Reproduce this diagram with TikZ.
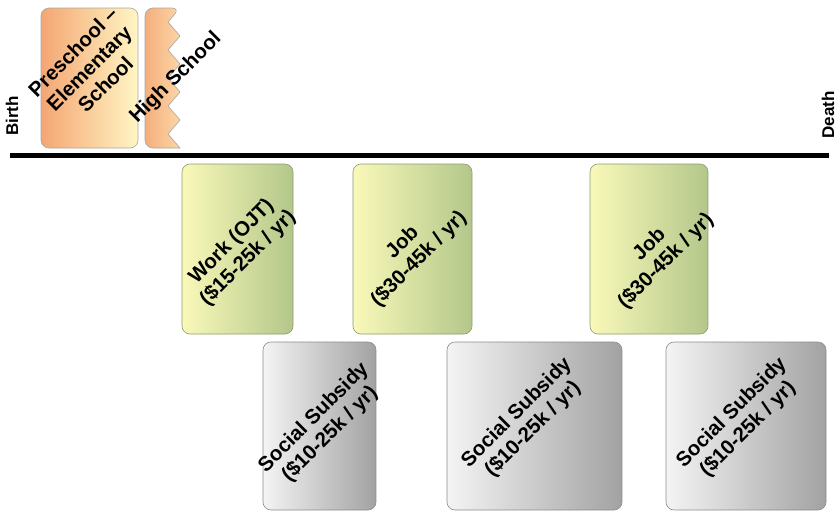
\documentclass[tikz,border=0pt]{standalone}
\usepackage{fontspec}
\setmainfont{Liberation Sans}
\definecolor{preL}{HTML}{F4A673}
\definecolor{preR}{HTML}{FFF6C4}
\definecolor{hsL}{HTML}{F5AE7C}
\definecolor{hsR}{HTML}{FCD6A6}
\definecolor{grnL}{HTML}{F9F9B9}
\definecolor{grnR}{HTML}{B3C78A}
\definecolor{grnD}{HTML}{8E9A72}
\definecolor{gryL}{HTML}{F4F4F4}
\definecolor{gryR}{HTML}{A2A2A2}
\begin{document}
\begin{tikzpicture}[x=1pt,y=-1pt,
  box/.style={draw=#1, rounded corners=8pt, line width=0.6pt, inner sep=0pt},
  orangebox/.style={box=black!35, left color=preL, right color=preR},
  greenbox/.style={box=grnD, left color=grnL, right color=grnR},
  graybox/.style={box=black!45, left color=gryL, right color=gryR},
  lbl/.style={font=\fontsize{20.5}{23}\bfseries\selectfont, align=center, rotate=45, inner sep=0pt},
  endlbl/.style={font=\fontsize{17}{19}\bfseries\selectfont, rotate=90, inner sep=0pt}]
\useasboundingbox (0,0) rectangle (839,512);
% boxes
\node[orangebox, minimum width=97pt, minimum height=140pt] (pre) at (89.5,78) {};
\path[draw=black!35, line width=0.6pt, left color=hsL, right color=hsR, rounded corners=8pt]
  (180,148) -- (145,148) -- (145,8) -- (180,8) [sharp corners]
  -- (168,22) -- (180,36) -- (168,50) -- (180,64) -- (168,78) -- (180,92)
  -- (168,106) -- (180,120) -- (168,134) -- cycle;
\coordinate (hs) at (176,78);
\node[greenbox, minimum width=111pt, minimum height=170pt] (work) at (237.5,249) {};
\node[greenbox, minimum width=119pt, minimum height=170pt] (job1) at (412.5,249) {};
\node[greenbox, minimum width=118pt, minimum height=170pt] (job2) at (649,249) {};
\node[graybox, minimum width=113pt, minimum height=168pt] (ss1) at (319.5,426) {};
\node[graybox, minimum width=175pt, minimum height=168pt] (ss2) at (534.5,426) {};
\node[graybox, minimum width=160pt, minimum height=168pt] (ss3) at (746,426) {};
% timeline
\node[endlbl] (birth) at (12,116) {Birth};
\node[endlbl] (death) at (828,115) {Death};
\draw[line width=5pt] (10,155) -- (829,155);
% labels
\node[lbl] (tpre) at (89,68) {Preschool –\\Elementary\\School};
\node[lbl] (ths) at (hs) {High School};
\node[lbl] (twork) at (240,250) {Work (OJT)\\(\$15-25k / yr)};
\node[lbl] (tjob1) at (411,251) {Job\\(\$30-45k / yr)};
\node[lbl] (tjob2) at (658,253) {Job\\(\$30-45k / yr)};
\node[lbl] (tss1) at (322,426) {Social Subsidy\\(\$10-25k / yr)};
\node[lbl] (tss2) at (525,421) {Social Subsidy\\(\$10-25k / yr)};
\node[lbl] (tss3) at (740,421) {Social Subsidy\\(\$10-25k / yr)};
\end{tikzpicture}
\end{document}
